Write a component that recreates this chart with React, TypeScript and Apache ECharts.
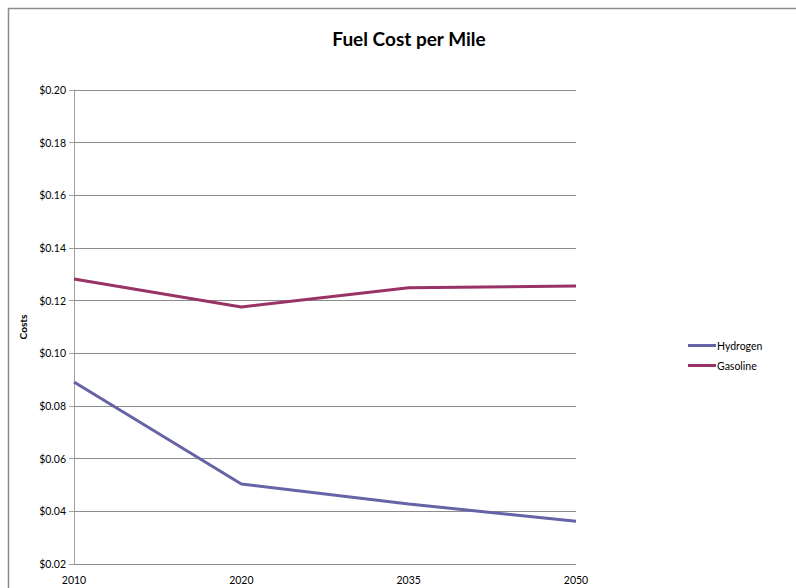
import React, { useEffect, useRef } from "react";
import * as echarts from "echarts";

const categories = ["2010", "2020", "2035", "2050"];
const hydrogen = [0.0891, 0.0504, 0.0428, 0.0362];
const gasoline = [0.1282, 0.1176, 0.1249, 0.1256];
const yMin = 0.02;
const yMax = 0.2;
const yStep = 0.02;

export default function App() {
  const ref = useRef<HTMLDivElement>(null);
  useEffect(() => {
    if (!ref.current) return;
    const chart = echarts.init(ref.current, null, { renderer: "svg" });
    const font = "Lato, 'Open Sans', sans-serif";
    chart.setOption({
      animation: false,
      backgroundColor: "#ffffff",
      textStyle: { fontFamily: font },
      graphic: [
        {
          type: "rect",
          shape: { x: 8.5, y: 8.5, width: 820, height: 620 },
          style: { fill: "none", stroke: "#8c8c8c", lineWidth: 1.5 },
          silent: true,
        },
      ],
      title: {
        text: "Fuel Cost per Mile",
        left: 404,
        top: 24,
        textAlign: "center",
        textStyle: { fontFamily: font, fontSize: 19, fontWeight: "bold", color: "#000" },
      },
      legend: {
        orient: "vertical",
        left: 683,
        top: 335,
        itemWidth: 28,
        itemHeight: 3,
        itemGap: 9,
        icon: "rect",
        textStyle: { fontFamily: font, fontSize: 10.5, color: "#000", padding: [0, 0, 0, -4] },
        data: ["Hydrogen", "Gasoline"],
      },
      grid: { left: 74, right: 220, top: 90, bottom: 24, containLabel: false },
      xAxis: {
        type: "category",
        data: categories,
        boundaryGap: false,
        axisLine: { show: false },
        axisTick: { show: false },
        axisLabel: { fontFamily: font, fontSize: 10.5, color: "#000", margin: 10, interval: 0 },
      },
      yAxis: {
        type: "value",
        min: yMin,
        max: yMax,
        interval: yStep,
        name: "Costs",
        nameLocation: "middle",
        nameGap: 38,
        nameRotate: 90,
        nameTextStyle: { fontFamily: font, fontSize: 10, fontWeight: "bold", color: "#000" },
        axisLine: { show: true, lineStyle: { color: "#a0a0a0", width: 1 } },
        axisTick: { show: true, length: 5, lineStyle: { color: "#a0a0a0" } },
        splitLine: { show: true, lineStyle: { color: "#8c8c8c", width: 1 } },
        axisLabel: {
          fontFamily: font,
          fontSize: 10.5,
          color: "#000",
          margin: 8,
          formatter: (v: number) => "$" + v.toFixed(2),
        },
      },
      series: [
        {
          name: "Hydrogen",
          type: "line",
          data: hydrogen,
          symbol: "none",
          lineStyle: { color: "#6663a6", width: 3 },
          itemStyle: { color: "#6663a6" },
        },
        {
          name: "Gasoline",
          type: "line",
          data: gasoline,
          symbol: "none",
          lineStyle: { color: "#993366", width: 3 },
          itemStyle: { color: "#993366" },
        },
      ],
    });
    return () => chart.dispose();
  }, []);
  return (
    <div
      ref={ref}
      style={{ position: "fixed", left: 0, top: 0, width: 796, height: 588 }}
    />
  );
}
